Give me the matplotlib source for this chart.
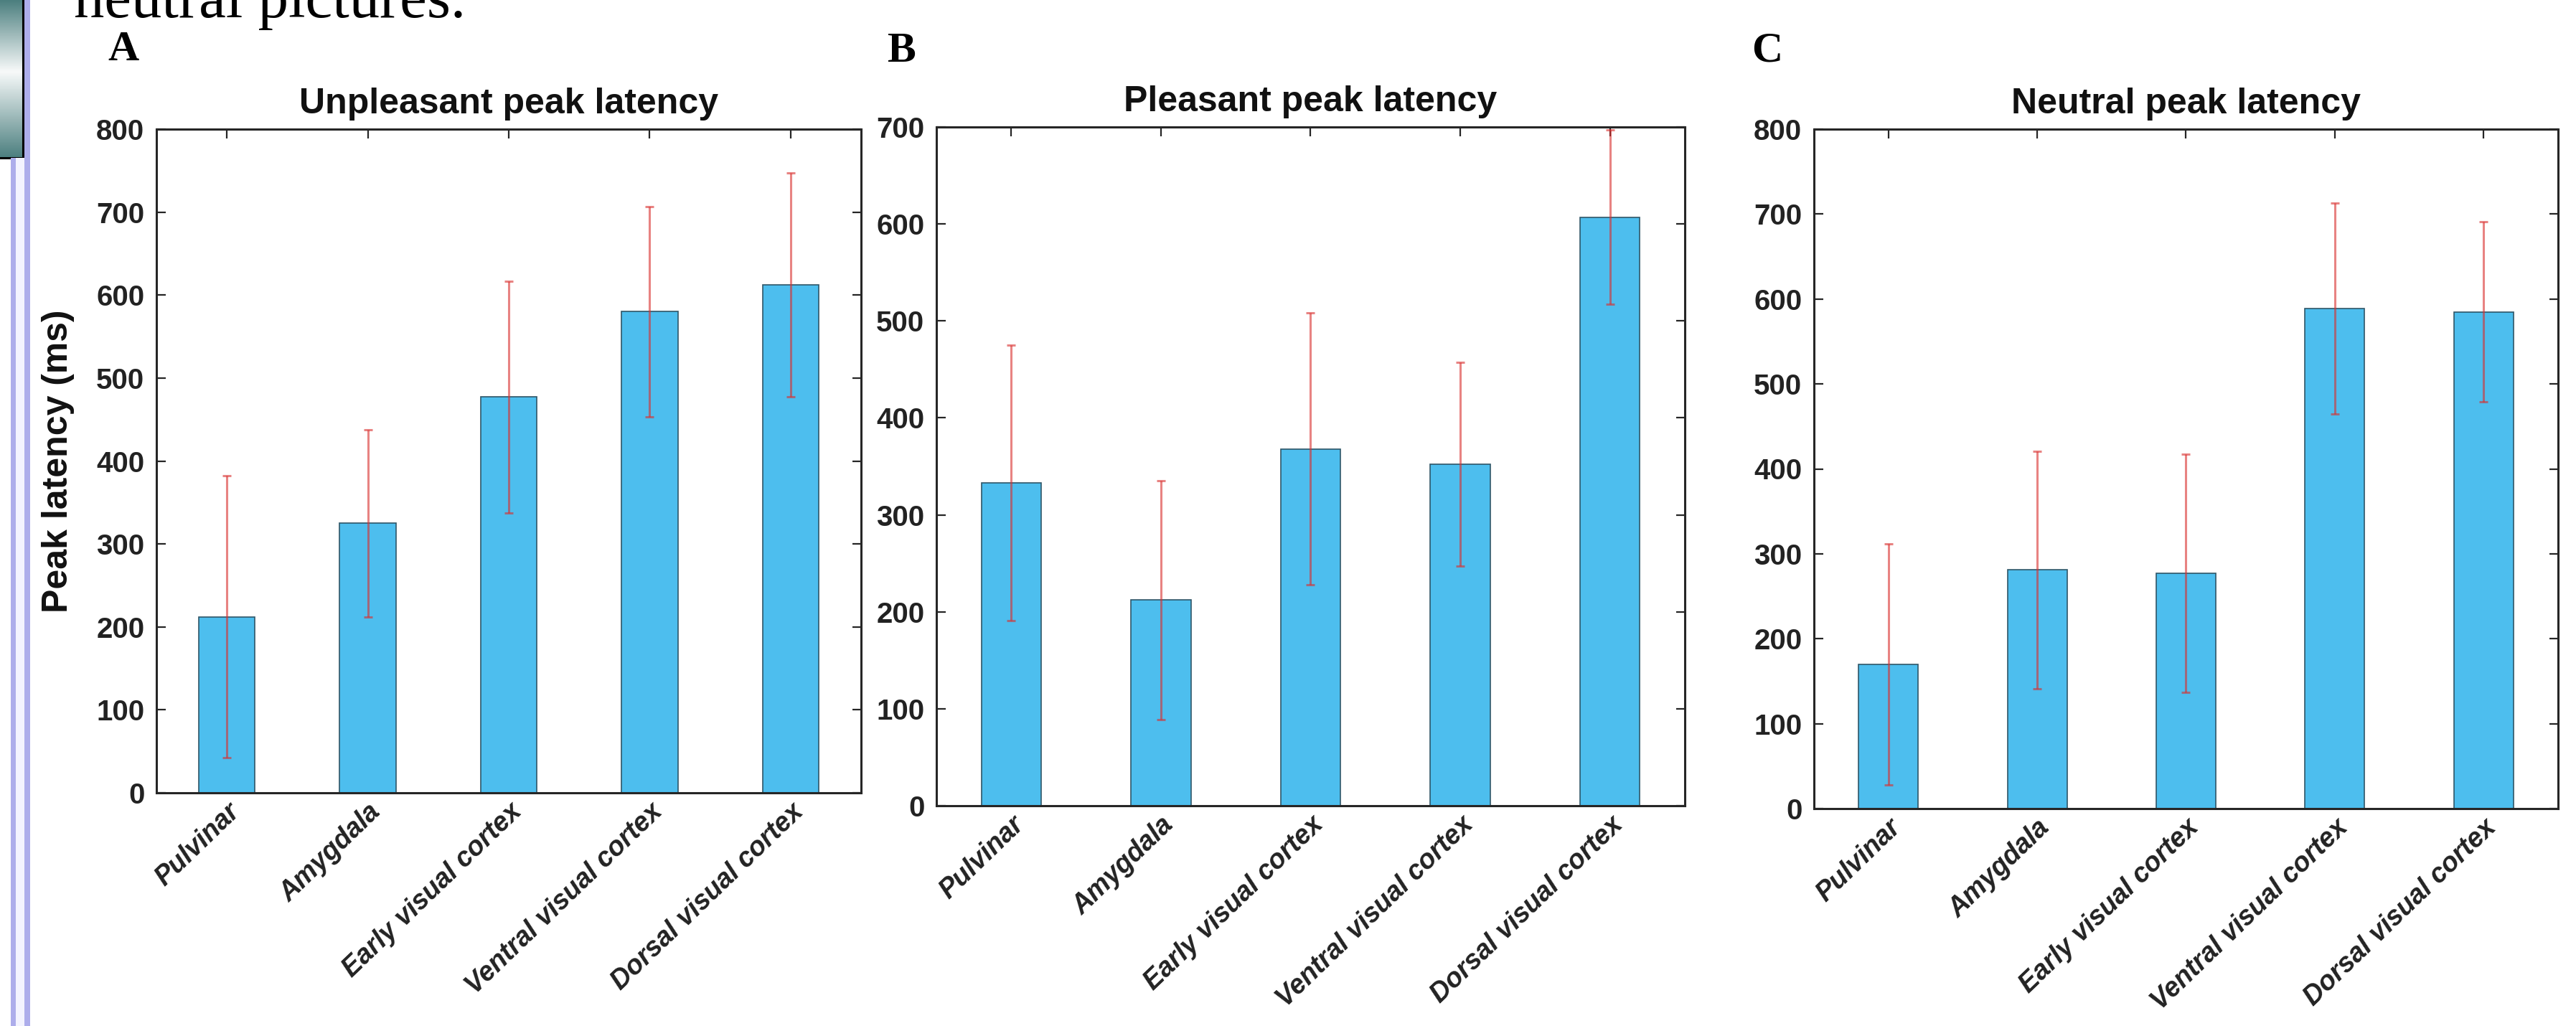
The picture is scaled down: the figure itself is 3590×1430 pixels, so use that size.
import numpy as np
import matplotlib.pyplot as plt
import matplotlib.transforms as mtransforms
from matplotlib import font_manager
from matplotlib.patches import Rectangle

# Values
regions = ['Pulvinar', 'Amygdala', 'Early visual cortex',
           'Ventral visual cortex', 'Dorsal visual cortex']

unpleasant_mean = [212, 325, 477, 580, 612]
unpleasant_err = [170, 113, 140, 127, 135]

pleasant_mean = [333, 212, 368, 352, 607]
pleasant_err = [142, 123, 140, 105, 90]

neutral_mean = [170, 281, 277, 589, 585]
neutral_err = [142, 140, 140, 124, 106]

titles = ['Unpleasant peak latency', 'Pleasant peak latency', 'Neutral peak latency']
panel_letters = ['A', 'B', 'C']
y_limits = [800, 700, 800]

BAR_COLOR = '#4DBEEE'
ERR_COLOR = '#D9302F'
AXIS_COLOR = '#262626'

# the picture in the slide is squeezed sideways, a narrow face imitates that
installed = {f.name for f in font_manager.fontManager.ttflist}
if 'Liberation Sans Narrow' in installed:
    SANS = 'Liberation Sans Narrow'
    tick_fs, xlab_fs, title_fs = 35, 32, 41
else:
    SANS = 'Liberation Sans'
    tick_fs, xlab_fs, title_fs = 29, 27, 36

W, H = 3591, 1430
fig = plt.figure(figsize=(W / 100, H / 100), dpi=100)
fig.patch.set_facecolor('white')


def px_axes(x0, y0, x1, y1, **kw):
    """Add an axes given a pixel box (top-left origin)."""
    return fig.add_axes([x0 / W, 1 - y1 / H, (x1 - x0) / W, (y1 - y0) / H], **kw)


# slide decoration on the left edge
grad_ax = px_axes(0, 0, 32, 220)
grad = np.concatenate([np.linspace(0, 1, 50), np.linspace(1, 0, 60)])[:, None]
teal = np.array([0.30, 0.50, 0.50])
img = teal[None, None, :] * (1 - grad[:, :, None] * 0.95) + grad[:, :, None] * 0.95
grad_ax.imshow(img, aspect='auto', extent=[0, 1, 0, 1])
grad_ax.set_xticks([])
grad_ax.set_yticks([])
for side in ['top', 'left']:
    grad_ax.spines[side].set_visible(False)
for side in ['right', 'bottom']:
    grad_ax.spines[side].set_linewidth(2.2)
    grad_ax.spines[side].set_color('black')

fig.patches.append(Rectangle((22 / W, 0), 12 / W, 1 - 220 / H, transform=fig.transFigure,
                             facecolor='#F3F3FF', edgecolor='none'))
fig.patches.append(Rectangle((15 / W, 0), 7 / W, 1 - 220 / H, transform=fig.transFigure,
                             facecolor='#ADADEB', edgecolor='none'))
fig.patches.append(Rectangle((34 / W, 0), 8 / W, 1, transform=fig.transFigure,
                             facecolor='#ADADEB', edgecolor='none'))

# cut-off line of slide text at the very top
fig.text(103 / W, 1 - 24 / H, 'neutral pictures.', fontsize=61,
         family='Liberation Serif', va='baseline', ha='left', color='black')

boxes = [(218, 180, 1200, 1105), (1305, 177, 2348, 1123), (2528, 180, 3565, 1127)]
letter_pos = [(150, 84), (1236, 86), (2441, 86)]
means = [unpleasant_mean, pleasant_mean, neutral_mean]
errs = [unpleasant_err, pleasant_err, neutral_err]

x = np.arange(1, len(regions) + 1)
# rotated labels sit a little to the right of their ticks, as in the slide
shift_right = mtransforms.ScaledTranslation(0.22, 0, fig.dpi_scale_trans)

for i, box in enumerate(boxes):
    ax = px_axes(*box)
    ax.bar(x, means[i], width=0.4, color=BAR_COLOR, edgecolor='#2F5668', linewidth=1.2, zorder=2)
    ax.errorbar(x, means[i], yerr=errs[i], fmt='none', ecolor=ERR_COLOR, alpha=0.6,
                elinewidth=2.2, capsize=4, capthick=2.2, zorder=3)
    ax.set_xlim(0.5, len(regions) + 0.5)
    ax.set_ylim(0, y_limits[i])
    ax.set_yticks(np.arange(0, y_limits[i] + 1, 100))
    ax.set_xticks(x)
    ax.set_xticklabels(regions, rotation=44, ha='right', va='top',
                       rotation_mode='anchor', fontsize=xlab_fs, fontweight='bold',
                       fontstyle='italic', family=SANS)
    for lab in ax.get_xticklabels():
        lab.set_transform(lab.get_transform() + shift_right)
    for lab in ax.get_yticklabels():
        lab.set_fontsize(tick_fs)
        lab.set_fontweight('bold')
        lab.set_family(SANS)
    ax.tick_params(axis='both', direction='in', length=9, width=1.6,
                   top=True, right=True, colors=AXIS_COLOR, labelcolor='#222222')
    ax.tick_params(axis='x', pad=6)
    ax.tick_params(axis='y', pad=12)
    for spine in ax.spines.values():
        spine.set_linewidth(2.2)
        spine.set_color(AXIS_COLOR)
    ax.set_title(titles[i], fontsize=title_fs, fontweight='bold', family=SANS,
                 pad=16, color='#111111')
    if i == 0:
        ax.set_ylabel('Peak latency (ms)', fontsize=title_fs, fontweight='bold',
                      family=SANS, labelpad=22, color='#111111')
    lx, ly = letter_pos[i]
    fig.text(lx / W, 1 - ly / H, panel_letters[i], fontsize=43, fontweight='bold',
             family='Liberation Serif', va='baseline', ha='left')

fig.savefig('out.png', dpi=100, facecolor='white')
